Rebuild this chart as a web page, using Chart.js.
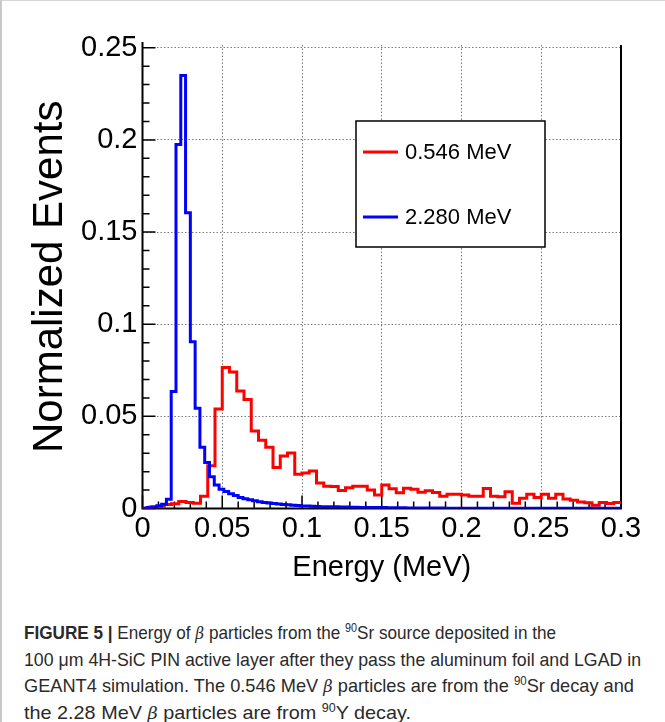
<!DOCTYPE html>
<html>
<head>
<meta charset="utf-8">
<script src="https://cdn.jsdelivr.net/npm/chart.js@4.4.1/dist/chart.umd.min.js"></script>
<style>
  html, body { margin: 0; padding: 0; background: #fff; }
  body { width: 665px; height: 722px; position: relative; overflow: hidden; }
  #box { position: absolute; left: 0; top: 0; width: 665px; height: 722px; border-left: 2px solid #c8c8c8; border-top: 1px solid #d4d4d4; box-sizing: border-box; }
  #chart { position: absolute; left: 0; top: 0; }
  #caption {
    position: absolute; left: 24px; top: 620px;
    font-family: "Liberation Sans", Arial, sans-serif;
    font-size: 19px; line-height: 26.5px; color: #2a2a2a;
  }
  #caption div { white-space: nowrap; width: max-content; transform-origin: left top; }
  #caption sup { font-size: 12px; vertical-align: 7px; line-height: 0; }
  #caption i { font-family: "DejaVu Serif", serif; font-size: 17px; }
</style>
</head>
<body>
<div id="box"></div>
<canvas id="chart" width="665" height="600"></canvas>
<div id="caption">
  <div data-w="532"><b>FIGURE 5 |</b> Energy of <i>β</i> particles from the <sup>90</sup>Sr source deposited in the</div>
  <div data-w="617">100 μm 4H-SiC PIN active layer after they pass the aluminum foil and LGAD in</div>
  <div data-w="610">GEANT4 simulation. The 0.546 MeV <i>β</i> particles are from the <sup>90</sup>Sr decay and</div>
  <div data-w="387">the 2.28 MeV <i>β</i> particles are from <sup>90</sup>Y decay.</div>
</div>
<script>
// Histogram binning (MeV)
const redBinWidth = 0.3 / 66;
const blueBinWidth = 0.003;

// Normalized events per bin, 0.546 MeV beta (90Sr)
const red546 = [
  0.0002, 0.0008, 0.0010, 0.0022, 0.0026, 0.0038, 0.0032, 0.0029, 0.0067, 0.0232,
  0.0540, 0.0765, 0.0740, 0.0637, 0.0592, 0.0420, 0.0370, 0.0333, 0.0222, 0.0285,
  0.0301, 0.0186, 0.0193, 0.0204, 0.0139, 0.0121, 0.0120, 0.0098, 0.0113, 0.0121,
  0.0121, 0.0101, 0.0073, 0.0127, 0.0107, 0.0085, 0.0110, 0.0105, 0.0088, 0.0096,
  0.0087, 0.0066, 0.0077, 0.0077, 0.0073, 0.0067, 0.0067, 0.0109, 0.0067, 0.0064,
  0.0091, 0.0028, 0.0055, 0.0077, 0.0060, 0.0077, 0.0055, 0.0077, 0.0051, 0.0045,
  0.0035, 0.0031, 0.0018, 0.0032, 0.0027, 0.0032
];

// Normalized events per bin, 2.280 MeV beta (90Y)
const blue2280 = [
  0.0002, 0.0006, 0.0008, 0.0015, 0.0023, 0.0050, 0.0635, 0.1975, 0.2350, 0.1605,
  0.0905, 0.0544, 0.0333, 0.0249, 0.0172, 0.0127, 0.0105, 0.0092, 0.0080, 0.0071,
  0.0060, 0.0053, 0.0047, 0.0042, 0.0037, 0.0033, 0.0030, 0.0027, 0.0025, 0.0022,
  0.0020, 0.0018, 0.0016, 0.0014, 0.0013, 0.0012, 0.0011, 0.0010, 0.0010, 0.0009,
  0.0009, 0.0008, 0.0008, 0.0007, 0.0007, 0.0006, 0.0006, 0.0006, 0.0005, 0.0005,
  0.0005, 0.0004, 0.0004, 0.0004, 0.0004, 0.0003, 0.0003, 0.0003, 0.0003, 0.0003,
  0.0003, 0.0003, 0.0003, 0.0002, 0.0002, 0.0002, 0.0002, 0.0002, 0.0002, 0.0002,
  0.0002, 0.0002, 0.0002, 0.0002, 0.0002, 0.0002, 0.0002, 0.0002, 0.0002, 0.0002,
  0.0001, 0.0001, 0.0001, 0.0001, 0.0001, 0.0001, 0.0001, 0.0001, 0.0001, 0.0001,
  0.0001, 0.0001, 0.0001, 0.0001, 0.0001, 0.0001, 0.0001, 0.0001, 0.0001, 0.0001
];

const seriesLabels = ['0.546 MeV', '2.280 MeV'];
const xTickValues = [0, 0.05, 0.1, 0.15, 0.2, 0.25, 0.3];
const yTickValues = [0, 0.05, 0.1, 0.15, 0.2, 0.25];
const minorStep = 0.01;

// Turn bin contents into step points at the bin edges
function histPoints(values, width) {
  const pts = values.map((v, i) => ({ x: i * width, y: v }));
  pts.push({ x: values.length * width, y: values[values.length - 1] });
  return pts;
}

function fmt(v) {
  return String(Number(v.toFixed(3)));
}

// Inward ROOT-style ticks, frame and boxed legend
const histFrame = {
  id: 'histFrame',
  beforeDatasetsDraw(chart) {
    const { ctx, chartArea: a, scales: { x, y } } = chart;
    ctx.save();
    ctx.strokeStyle = '#000';
    ctx.lineWidth = 1.5;
    ctx.beginPath();
    for (let v = 0; v <= 0.3 + 1e-9; v += minorStep) {
      const px = x.getPixelForValue(v);
      const major = xTickValues.some(t => Math.abs(t - v) < 1e-6);
      ctx.moveTo(px, a.bottom);
      ctx.lineTo(px, a.bottom - (major ? 13 : 7));
    }
    for (let v = 0; v <= y.max + 1e-9; v += minorStep) {
      const py = y.getPixelForValue(v);
      const major = yTickValues.some(t => Math.abs(t - v) < 1e-6);
      ctx.moveTo(a.left, py);
      ctx.lineTo(a.left + (major ? 13 : 7), py);
    }
    ctx.stroke();

    // axis frame sits under the histograms
    ctx.lineWidth = 2;
    ctx.beginPath();
    ctx.moveTo(a.left, a.top - 3);
    ctx.lineTo(a.left, a.bottom);
    ctx.lineTo(a.right, a.bottom);
    ctx.lineTo(a.right, a.top);
    ctx.stroke();
    ctx.restore();
  },
  afterDatasetsDraw(chart) {
    const { ctx } = chart;
    ctx.save();
    // legend box
    const lx = 356, ly = 121, lw = 189, lh = 126;
    ctx.fillStyle = '#fff';
    ctx.fillRect(lx, ly, lw, lh);
    ctx.strokeStyle = '#000';
    ctx.lineWidth = 1.5;
    ctx.strokeRect(lx, ly, lw, lh);
    ctx.font = '22px "Liberation Sans", Arial, sans-serif';
    ctx.textBaseline = 'middle';
    const rows = [152, 217];
    chart.data.datasets.forEach((ds, i) => {
      ctx.strokeStyle = ds.borderColor;
      ctx.lineWidth = 3;
      ctx.beginPath();
      ctx.moveTo(lx + 7, rows[i]);
      ctx.lineTo(lx + 42, rows[i]);
      ctx.stroke();
      ctx.fillStyle = '#000';
      ctx.fillText(ds.label, lx + 49, rows[i] + 1);
    });
    ctx.restore();
  }
};

const fontFamily = '"Liberation Sans", Arial, sans-serif';

new Chart(document.getElementById('chart'), {
  type: 'line',
  data: {
    datasets: [
      {
        label: seriesLabels[0],
        data: histPoints(red546, redBinWidth),
        borderColor: '#ff0000',
        borderWidth: 3,
        stepped: true,
        pointRadius: 0,
        fill: false,
        order: 2
      },
      {
        label: seriesLabels[1],
        data: histPoints(blue2280, blueBinWidth),
        borderColor: '#0000ff',
        borderWidth: 3,
        stepped: true,
        pointRadius: 0,
        fill: false,
        order: 1
      }
    ]
  },
  options: {
    responsive: false,
    animation: false,
    devicePixelRatio: 1,
    layout: { padding: { left: 0, right: 44, top: 45, bottom: 0 } },
    plugins: { legend: { display: false }, tooltip: { enabled: false } },
    scales: {
      x: {
        type: 'linear',
        min: 0,
        max: 0.3,
        afterBuildTicks: s => { s.ticks = xTickValues.map(v => ({ value: v })); },
        afterFit: s => { s.height = 91.5; },
        grid: { color: '#7a7a7a', lineWidth: 1, drawTicks: false },
        border: { display: false, dash: [1.5, 2] },
        ticks: { color: '#000', font: { family: fontFamily, size: 29 }, padding: 3, maxRotation: 0, callback: v => fmt(v) },
        title: {
          display: true, text: 'Energy (MeV)', color: '#000',
          font: { family: fontFamily, size: 29 },
          padding: { top: 0, bottom: 15 }
        }
      },
      y: {
        min: 0,
        max: 0.2515,
        afterBuildTicks: s => { s.ticks = yTickValues.map(v => ({ value: v })); },
        afterFit: s => { s.width = 142.5; },
        grid: { color: '#7a7a7a', lineWidth: 1, drawTicks: false },
        border: { display: false, dash: [1.5, 2] },
        ticks: { color: '#000', font: { family: fontFamily, size: 29 }, padding: 5, callback: v => fmt(v) },
        title: {
          display: true, text: 'Normalized Events', color: '#000',
          font: { family: fontFamily, size: 42 },
          padding: { top: 25, bottom: 0 }
        }
      }
    }
  },
  plugins: [histFrame]
});

// The caption is set in a condensed face: squeeze each line to its column width
document.querySelectorAll('#caption div').forEach(line => {
  const w = line.getBoundingClientRect().width;
  line.style.transform = 'scaleX(' + (Number(line.dataset.w) / w) + ')';
});
</script>
</body>
</html>
